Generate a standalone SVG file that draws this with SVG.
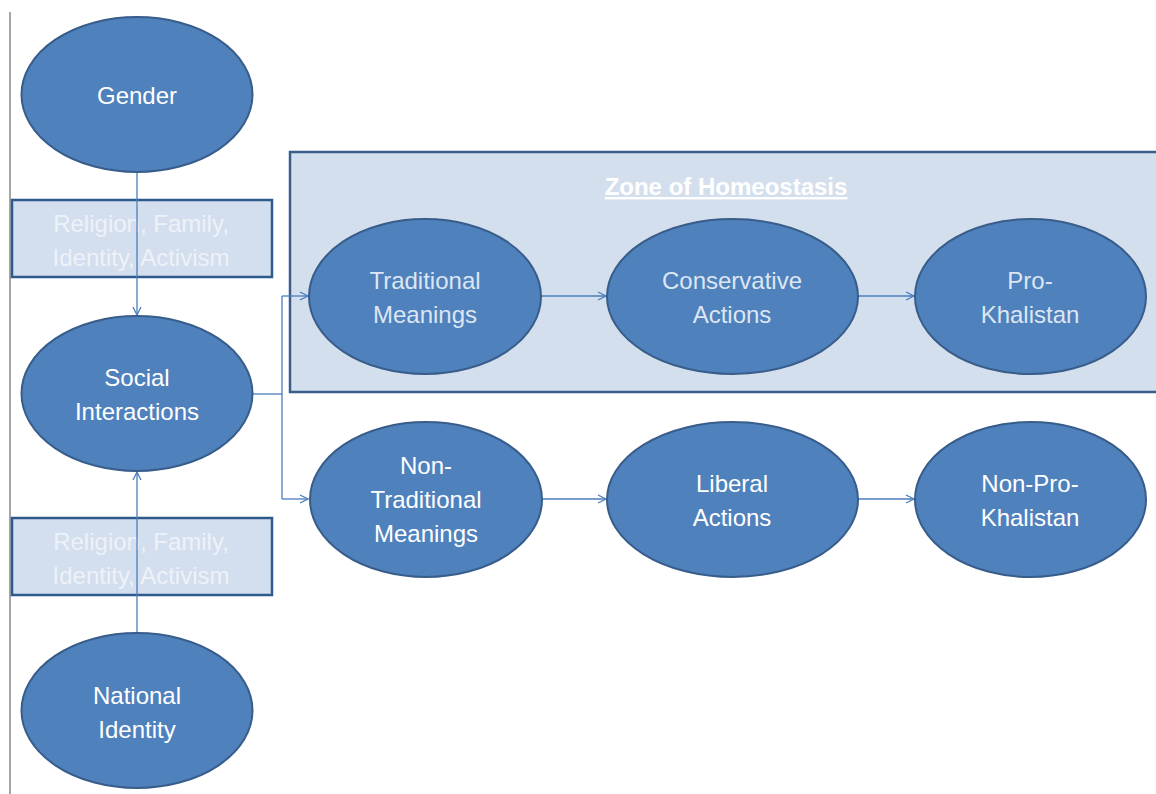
<svg xmlns="http://www.w3.org/2000/svg" width="1156" height="794" viewBox="0 0 1156 794">
<defs>
<style>
.node{fill:#4F81BD;stroke:#385D8A;stroke-width:2}
.box{fill:#D3DFEE;stroke:#2F5A8E;stroke-width:2.5}
.t{font-family:"Liberation Sans",Arial,sans-serif;font-size:24px;text-anchor:middle;fill:#FFFFFF}
.tz{fill:#DDE6F2}
.tb{fill:#EEF2F8}
.c{fill:none;stroke:#4A7EBB;stroke-width:1.3}
</style>
<marker id="arr" viewBox="0 0 10 10" refX="9" refY="5" markerWidth="10" markerHeight="10" markerUnits="userSpaceOnUse" orient="auto">
<path d="M1,1 L9,5 L1,9" fill="none" stroke="#4A7EBB" stroke-width="1.3"/>
</marker>
</defs>
<rect width="1156" height="794" fill="#FFFFFF"/>
<line x1="10" y1="12" x2="10" y2="794" stroke="#A6A6A6" stroke-width="2"/>

<g id="zone">
<rect x="290" y="152" width="880" height="240" fill="#D4DFEE" stroke="#385D8A" stroke-width="2.5"/>
<text class="t" x="726" y="195" font-weight="bold" text-decoration="underline">Zone of Homeostasis</text>
</g>

<g id="box1">
<rect class="box" x="12" y="200" width="260" height="77"/>
<text class="t tb" x="141" y="232">Religion, Family,</text>
<text class="t tb" x="141" y="266">Identity, Activism</text>
</g>
<g id="box2">
<rect class="box" x="12" y="518" width="260" height="77"/>
<text class="t tb" x="141" y="550">Religion, Family,</text>
<text class="t tb" x="141" y="584">Identity, Activism</text>
</g>

<g id="connectors">
<path class="c" d="M137,172 L137,315" marker-end="url(#arr)"/>
<path class="c" d="M137,633 L137,472" marker-end="url(#arr)"/>
<path class="c" d="M252,394 L282,394"/>
<path class="c" d="M282,296 L282,499"/>
<path class="c" d="M282,296 L308,296" marker-end="url(#arr)"/>
<path class="c" d="M282,499 L308,499" marker-end="url(#arr)"/>
<path class="c" d="M541,296 L606,296" marker-end="url(#arr)"/>
<path class="c" d="M858,296 L914,296" marker-end="url(#arr)"/>
<path class="c" d="M542,499 L606,499" marker-end="url(#arr)"/>
<path class="c" d="M858,499 L914,499" marker-end="url(#arr)"/>
</g>

<g id="gender">
<ellipse class="node" cx="137" cy="94.5" rx="115.5" ry="77.5"/>
<text class="t" x="137" y="104">Gender</text>
</g>
<g id="social">
<ellipse class="node" cx="137" cy="393.5" rx="115.5" ry="77.5"/>
<text class="t" x="137" y="386">Social</text>
<text class="t" x="137" y="420">Interactions</text>
</g>
<g id="national">
<ellipse class="node" cx="137" cy="710.5" rx="115.5" ry="77.5"/>
<text class="t" x="137" y="704">National</text>
<text class="t" x="137" y="738">Identity</text>
</g>

<g id="traditional">
<ellipse class="node" cx="425" cy="296.5" rx="116" ry="77.5"/>
<text class="t tz" x="425" y="289">Traditional</text>
<text class="t tz" x="425" y="323">Meanings</text>
</g>
<g id="conservative">
<ellipse class="node" cx="732.5" cy="296.5" rx="125.5" ry="77.5"/>
<text class="t tz" x="732" y="289">Conservative</text>
<text class="t tz" x="732" y="323">Actions</text>
</g>
<g id="prokhalistan">
<ellipse class="node" cx="1030.5" cy="296.5" rx="115.5" ry="77.5"/>
<text class="t tz" x="1030" y="289">Pro-</text>
<text class="t tz" x="1030" y="323">Khalistan</text>
</g>

<g id="nontraditional">
<ellipse class="node" cx="426" cy="499.5" rx="116" ry="77.5"/>
<text class="t" x="426" y="474">Non-</text>
<text class="t" x="426" y="508">Traditional</text>
<text class="t" x="426" y="542">Meanings</text>
</g>
<g id="liberal">
<ellipse class="node" cx="732.5" cy="499.5" rx="125.5" ry="77.5"/>
<text class="t" x="732" y="492">Liberal</text>
<text class="t" x="732" y="526">Actions</text>
</g>
<g id="nonprokhalistan">
<ellipse class="node" cx="1030.5" cy="499.5" rx="115.5" ry="77.5"/>
<text class="t" x="1030" y="492">Non-Pro-</text>
<text class="t" x="1030" y="526">Khalistan</text>
</g>
</svg>
